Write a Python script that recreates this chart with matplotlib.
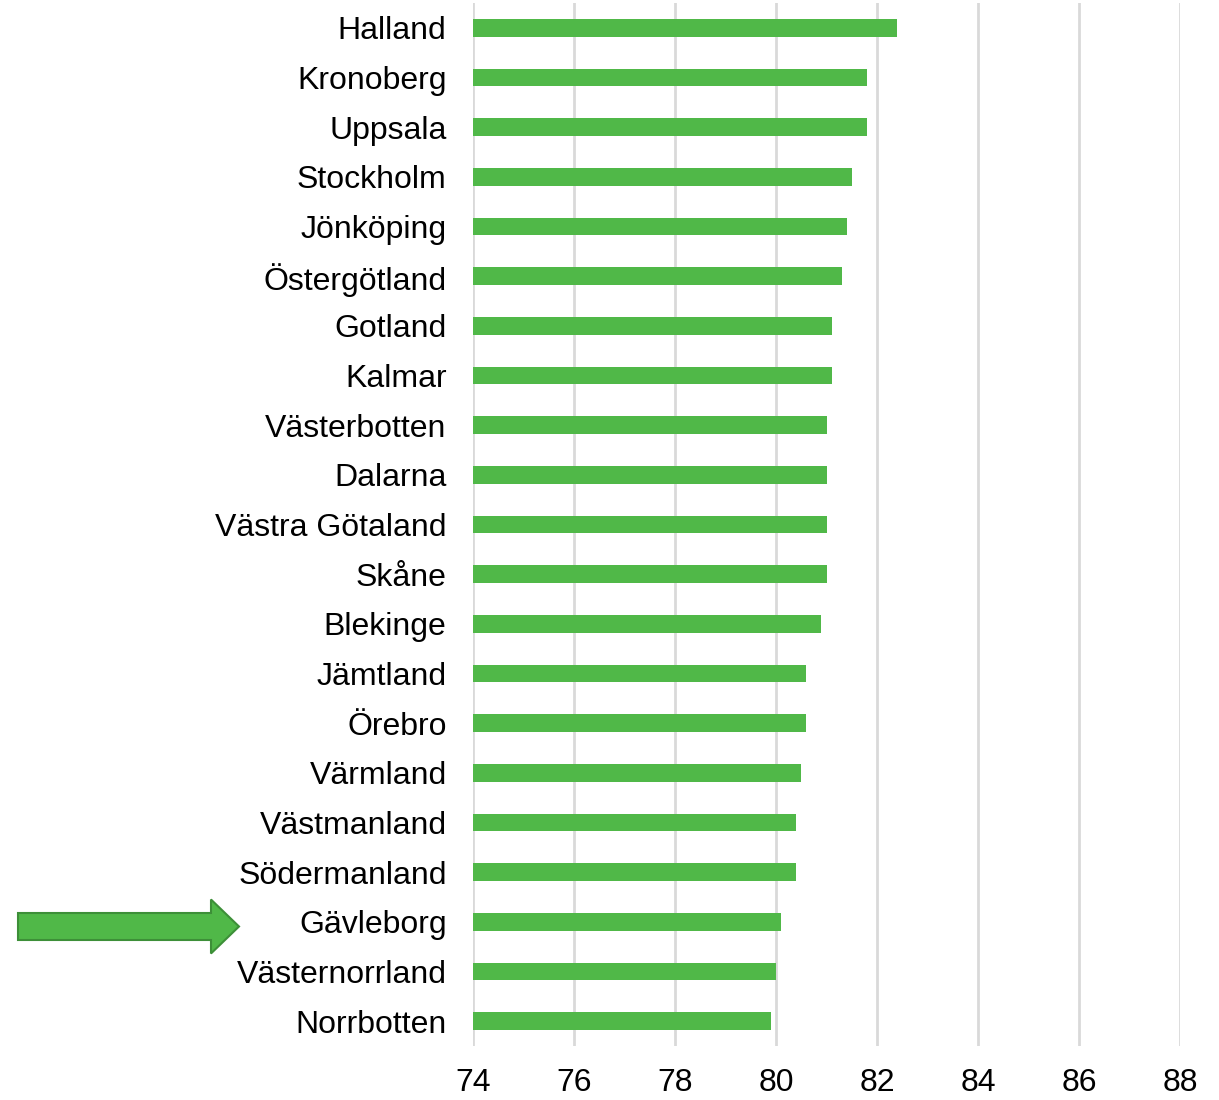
import matplotlib.pyplot as plt
from matplotlib.patches import FancyArrow

plt.rcParams['font.family'] = ['Liberation Sans', 'DejaVu Sans']

lan = ['Halland', 'Kronoberg', 'Uppsala', 'Stockholm', 'Jönköping', 'Östergötland',
       'Gotland', 'Kalmar', 'Västerbotten', 'Dalarna', 'Västra Götaland', 'Skåne',
       'Blekinge', 'Jämtland', 'Örebro', 'Värmland', 'Västmanland', 'Södermanland',
       'Gävleborg', 'Västernorrland', 'Norrbotten']
varden = [82.4, 81.8, 81.8, 81.5, 81.4, 81.3, 81.1, 81.1, 81.0, 81.0, 81.0, 81.0,
          80.9, 80.6, 80.6, 80.5, 80.4, 80.4, 80.1, 80.0, 79.9]
xticks = [74, 76, 78, 80, 82, 84, 86, 88]

W, H = 1219, 1100
fig = plt.figure(figsize=(W / 100, H / 100), dpi=100)
ax = fig.add_axes([473 / W, 1 - 1046 / H, (1180 - 473) / W, (1046 - 3) / H])

pos = list(range(len(lan)))
ax.barh(pos, [v - 74 for v in varden], left=74, height=0.36, color='#50b848', zorder=3)

ax.set_ylim(len(lan) - 0.5, -0.5)
ax.set_xlim(74, 88)
ax.set_xticks(xticks)
ax.set_yticks(pos)
ax.set_yticklabels(lan)
ax.tick_params(axis='both', length=0, labelsize=23)
ax.tick_params(axis='y', pad=19)
ax.tick_params(axis='x', pad=16)
ax.grid(axis='x', color='#d9d9d9', linewidth=2, zorder=0)
for s in ax.spines.values():
    s.set_visible(False)

# pil som pekar ut Gävleborg
arrow = FancyArrow(18 / W, 1 - 926.5 / H, (239 - 18) / W, 0,
                   width=27 / H, head_width=54 / H, head_length=28 / W,
                   length_includes_head=True, transform=fig.transFigure,
                   facecolor='#50b848', edgecolor='#3d8f38', linewidth=1.5)
fig.patches.append(arrow)

fig.savefig('out.png', dpi=100)
